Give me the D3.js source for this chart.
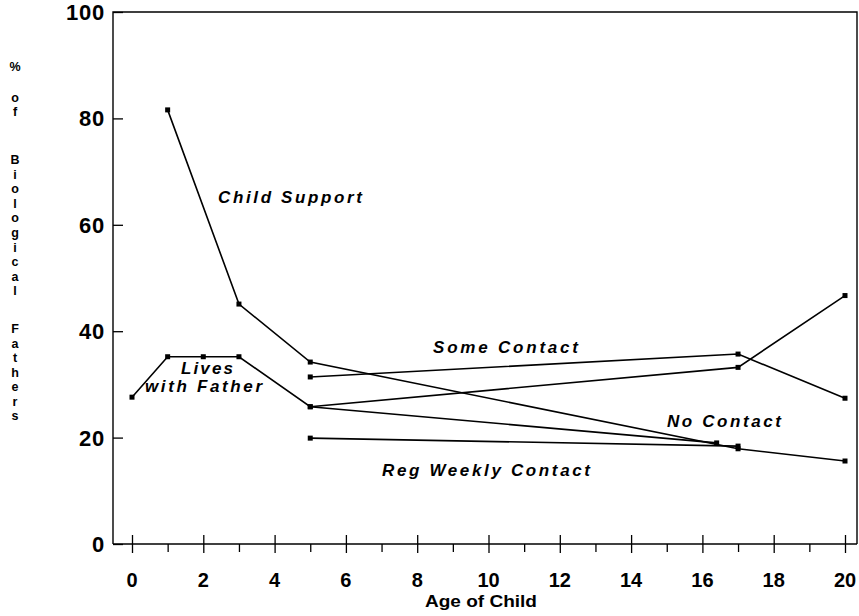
<!DOCTYPE html>
<html>
<head>
<meta charset="utf-8">
<script src="https://cdn.jsdelivr.net/npm/d3@7"></script>
<style>
  html, body { margin: 0; padding: 0; background: #fff; }
  svg { display: block; }
  text { font-family: "Liberation Sans", Arial, Helvetica, sans-serif; fill: #000; }
</style>
</head>
<body>
<svg id="chart" width="859" height="616"></svg>
<script>
// ---- data ----
const childSupportAge = [1, 3, 5, 17, 20];
const childSupportPct = [81.6, 45.1, 34.2, 17.9, 15.6];

const livesWithFatherAge = [0, 1, 2, 3, 5, 16.4];
const livesWithFatherPct = [27.6, 35.2, 35.2, 35.2, 25.8, 19.0];

const someContactAge = [5, 17, 20];
const someContactPct = [31.4, 35.7, 27.4];

const noContactAge = [5, 17, 20];
const noContactPct = [25.8, 33.2, 46.7];

const regWeeklyAge = [5, 17];
const regWeeklyPct = [19.9, 18.4];

const xTickLabels = [0, 2, 4, 6, 8, 10, 12, 14, 16, 18, 20];
const xMinorTicks = [1, 3, 5, 7, 9, 11, 13, 15, 17, 19];
const yTickLabels = [0, 20, 40, 60, 80, 100];

const seriesLabels = [
  { text: "Child Support", x: 218, y: 203, w: 144 },
  { text: "Some Contact", x: 433, y: 353, w: 145 },
  { text: "Lives", x: 181, y: 374, w: 52 },
  { text: "with Father", x: 145, y: 392, w: 117 },
  { text: "No Contact", x: 667, y: 427, w: 114 },
  { text: "Reg Weekly Contact", x: 382, y: 476, w: 208 }
];

const yTitleWords = [
  { word: "%", y: 66, step: 0 },
  { word: "of", y: 97, step: 14 },
  { word: "Biological", y: 159, step: 14.6 },
  { word: "Fathers", y: 328, step: 14.5 }
];

// ---- layout ----
const svg = d3.select("#chart");
const frame = { left: 113, right: 857, top: 12, bottom: 544 };
const x = d3.scaleLinear().domain([0, 20]).range([132, 845]);
const y = d3.scaleLinear().domain([0, 100]).range([frame.bottom, frame.top]);

// frame
svg.append("path")
  .attr("d", `M${frame.left},${frame.bottom} V${frame.top} H${frame.right} V${frame.bottom}`)
  .attr("fill", "none").attr("stroke", "#000").attr("stroke-width", 1.4);
svg.append("line")
  .attr("x1", frame.left).attr("x2", frame.right)
  .attr("y1", frame.bottom).attr("y2", frame.bottom)
  .attr("stroke", "#000").attr("stroke-width", 1.5);

// y axis ticks (inward) and labels
const yAxis = d3.axisRight(y).tickValues(yTickLabels).tickSize(10).tickFormat("");
const yg = svg.append("g").attr("transform", `translate(${frame.left},0)`).call(yAxis);
yg.select(".domain").remove();
yg.selectAll("line").attr("stroke-width", 1.3);
svg.append("g").selectAll("text").data(yTickLabels).join("text")
  .attr("x", 105).attr("y", d => y(d) + 8)
  .attr("text-anchor", "end")
  .attr("font-size", 22).attr("font-weight", "bold")
  .attr("letter-spacing", 0.8)
  .text(d => d);

// x axis major ticks (crossing) and minor ticks (below)
const xMajor = d3.axisBottom(x).tickValues(xTickLabels).tickSize(8).tickFormat("");
const xg1 = svg.append("g").attr("transform", `translate(0,${frame.bottom})`).call(xMajor);
xg1.select(".domain").remove();
xg1.selectAll("line").attr("y1", -9).attr("y2", 9).attr("stroke-width", 1.3);
const xMinor = d3.axisBottom(x).tickValues(xMinorTicks).tickSize(8).tickFormat("");
const xg2 = svg.append("g").attr("transform", `translate(0,${frame.bottom})`).call(xMinor);
xg2.select(".domain").remove();
xg2.selectAll("line").attr("stroke-width", 1.3);

svg.append("g").selectAll("text").data(xTickLabels).join("text")
  .attr("x", d => x(d)).attr("y", 587)
  .attr("text-anchor", "middle")
  .attr("font-size", 20).attr("font-weight", "bold")
  .text(d => d);

svg.append("text")
  .attr("x", 425).attr("y", 607)
  .attr("font-size", 17).attr("font-weight", "bold")
  .attr("textLength", 112).attr("lengthAdjust", "spacingAndGlyphs")
  .text("Age of Child");

// y title (stacked letters, one text element per word)
const yt = svg.append("g");
yTitleWords.forEach(w => {
  const t = yt.append("text")
    .attr("x", 15).attr("y", w.y + 5)
    .attr("text-anchor", "middle")
    .attr("font-size", 12.5).attr("font-weight", "bold");
  t.selectAll("tspan").data(w.word.split("")).join("tspan")
    .attr("x", 15)
    .attr("dy", (c, i) => i === 0 ? 0 : w.step)
    .text(c => c);
});

// ---- series ----
const series = [
  [childSupportAge, childSupportPct],
  [livesWithFatherAge, livesWithFatherPct],
  [someContactAge, someContactPct],
  [noContactAge, noContactPct],
  [regWeeklyAge, regWeeklyPct]
];
const line = d3.line().x(d => x(d[0])).y(d => y(d[1]));
series.forEach(([ages, pcts]) => {
  const pts = ages.map((a, i) => [a, pcts[i]]);
  svg.append("path").attr("d", line(pts))
    .attr("fill", "none").attr("stroke", "#000").attr("stroke-width", 1.6);
  svg.append("g").selectAll("rect").data(pts).join("rect")
    .attr("x", d => x(d[0]) - 2.5).attr("y", d => y(d[1]) - 2.5)
    .attr("width", 5).attr("height", 5).attr("fill", "#000");
});

// series labels
svg.append("g").selectAll("text").data(seriesLabels).join("text")
  .attr("x", d => d.x).attr("y", d => d.y)
  .attr("font-size", 17).attr("font-weight", "bold").attr("font-style", "italic")
  .attr("textLength", d => d.w).attr("lengthAdjust", "spacing")
  .text(d => d.text);
</script>
</body>
</html>
